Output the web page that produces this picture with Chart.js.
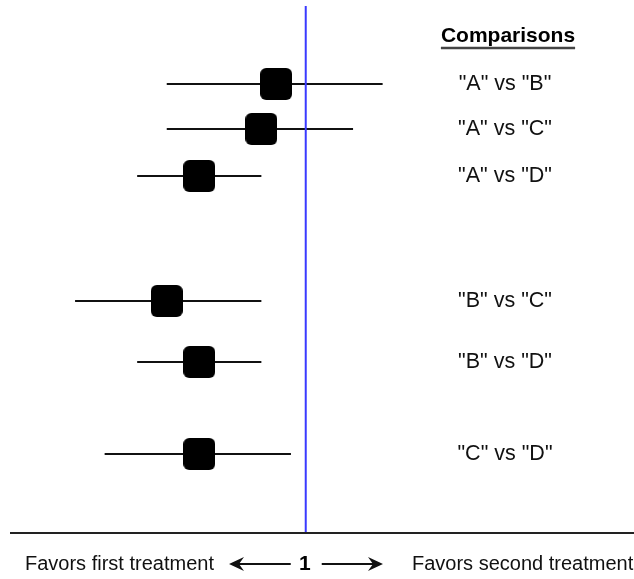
<!DOCTYPE html>
<html>
<head>
<meta charset="utf-8">
<script src="https://cdn.jsdelivr.net/npm/chart.js@4/dist/chart.umd.min.js"></script>
<style>
    html, body { margin: 0; padding: 0; background: #ffffff; }
    #wrap { position: relative; width: 634px; height: 579px; }
</style>
</head>
<body>
<div id="wrap"><canvas id="forest"></canvas></div>
<script>
// comparisons, top to bottom
const comparisons = ['"A" vs "B"', '"A" vs "C"', '"A" vs "D"', '"B" vs "C"', '"B" vs "D"', '"C" vs "D"'];
// vertical position of each row (0 = top)
const rowPositions = [1.56, 2.46, 3.4, 5.9, 7.12, 8.96];
// point estimates and interval limits (1 = no difference)
const estimates = [0.90, 0.85, 0.64, 0.53, 0.64, 0.64];
const lowerLimits = [0.53, 0.53, 0.43, 0.22, 0.43, 0.32];
const upperLimits = [1.26, 1.16, 0.85, 0.85, 0.85, 0.95];
const nullValue = 1;
const headerText = "Comparisons";
const leftText = "Favors first treatment";
const rightText = "Favors second treatment";

const FONT = "'Liberation Sans', Arial, sans-serif";

function makeSquare(size, radius) {
    const c = document.createElement("canvas");
    c.width = size;
    c.height = size;
    const g = c.getContext("2d");
    g.fillStyle = "#000000";
    g.beginPath();
    g.roundRect(0, 0, size, size, radius);
    g.fill();
    return c;
}

const squareImg = makeSquare(32, 6);

const intervalSets = comparisons.map((name, i) => ({
    label: name,
    type: "line",
    data: [
        { x: lowerLimits[i], y: rowPositions[i] },
        { x: upperLimits[i], y: rowPositions[i] }
    ],
    borderColor: "#111111",
    borderWidth: 2,
    pointRadius: 0,
    order: 3
}));

function arrow(ctx, x1, x2, y, head) {
    const dir = x2 > x1 ? 1 : -1;
    ctx.beginPath();
    ctx.moveTo(x1, y);
    ctx.lineTo(x2 - dir * 6, y);
    ctx.stroke();
    ctx.beginPath();
    ctx.moveTo(x2, y);
    ctx.lineTo(x2 - dir * head, y - 7);
    ctx.lineTo(x2 - dir * (head - 5), y);
    ctx.lineTo(x2 - dir * head, y + 7);
    ctx.closePath();
    ctx.fill();
}

const labelsPlugin = {
    id: "forestLabels",
    afterDraw(chart) {
        const ctx = chart.ctx;
        const yScale = chart.scales.y;
        const xScale = chart.scales.x;
        const area = chart.chartArea;
        ctx.save();

        // header
        ctx.fillStyle = "#000000";
        ctx.font = "bold 21px " + FONT;
        ctx.textAlign = "center";
        ctx.textBaseline = "middle";
        ctx.fillText(headerText, 508, 36);
        const hw = ctx.measureText(headerText).width;
        ctx.strokeStyle = "#444444";
        ctx.lineWidth = 2.5;
        ctx.beginPath();
        ctx.moveTo(508 - hw / 2, 48);
        ctx.lineTo(508 + hw / 2, 48);
        ctx.stroke();

        // row labels
        ctx.font = "21.5px " + FONT;
        ctx.fillStyle = "#111111";
        comparisons.forEach((name, i) => {
            ctx.fillText(name, 505, yScale.getPixelForValue(rowPositions[i]));
        });

        // horizontal axis line
        ctx.strokeStyle = "#222222";
        ctx.lineWidth = 2;
        ctx.beginPath();
        ctx.moveTo(10, area.bottom);
        ctx.lineTo(634, area.bottom);
        ctx.stroke();

        // bottom captions
        const cx = xScale.getPixelForValue(nullValue);
        const by = 564;
        ctx.font = "20px " + FONT;
        ctx.fillStyle = "#111111";
        ctx.textAlign = "left";
        ctx.fillText(leftText, 25, by);
        ctx.fillText(rightText, 412, by);
        ctx.font = "bold 21px " + FONT;
        ctx.textAlign = "center";
        ctx.fillStyle = "#000000";
        ctx.fillText(String(nullValue), cx - 1, by);

        ctx.strokeStyle = "#111111";
        ctx.fillStyle = "#111111";
        ctx.lineWidth = 2;
        arrow(ctx, cx - 15, 229, by, 15);
        arrow(ctx, cx + 16, 383, by, 15);

        ctx.restore();
    }
};

new Chart(document.getElementById("forest"), {
    type: "scatter",
    data: {
        datasets: [
            {
                label: "Estimate",
                data: estimates.map((v, i) => ({ x: v, y: rowPositions[i] })),
                pointStyle: squareImg,
                order: 1
            },
            {
                label: "No effect",
                type: "line",
                data: [{ x: nullValue, y: 0 }, { x: nullValue, y: 10.54 }],
                borderColor: "#3a3aff",
                borderWidth: 2,
                pointRadius: 0,
                order: 2
            },
            ...intervalSets
        ]
    },
    options: {
        responsive: true,
        maintainAspectRatio: false,
        animation: false,
        layout: {
            autoPadding: false,
            padding: { left: 10, right: 0, top: 6, bottom: 46 }
        },
        plugins: {
            legend: { display: false },
            tooltip: { enabled: false }
        },
        scales: {
            x: {
                type: "linear",
                min: 0,
                max: 2.11,
                display: false
            },
            y: {
                type: "linear",
                min: 0,
                max: 10.54,
                reverse: true,
                display: false
            }
        }
    },
    plugins: [labelsPlugin]
});
</script>
</body>
</html>
